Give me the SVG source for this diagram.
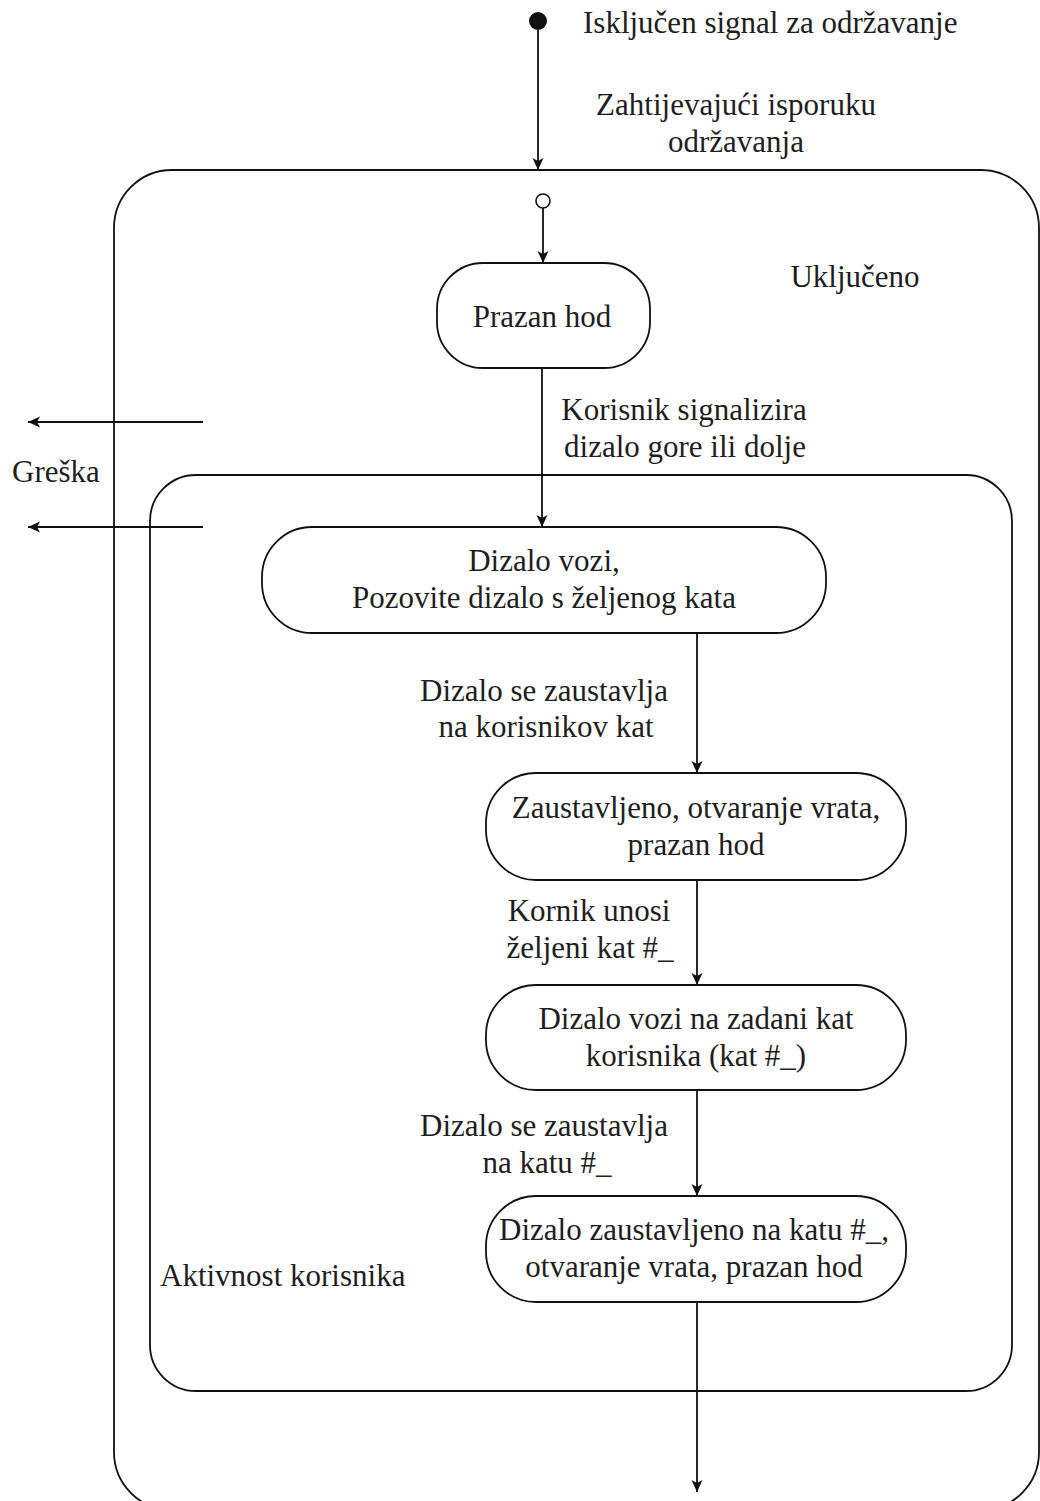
<svg xmlns="http://www.w3.org/2000/svg" width="1040" height="1501" viewBox="0 0 1040 1501">
<style>
text{font-family:"Liberation Serif","Times New Roman",serif;font-size:31px;fill:#1e1e1e}
.m{text-anchor:middle}
.box{fill:none;stroke:#111;stroke-width:1.8}
.ln{fill:none;stroke:#111;stroke-width:1.8}
</style>
<defs>
<marker id="ah" markerWidth="14" markerHeight="12" refX="12" refY="5.5" orient="auto" markerUnits="userSpaceOnUse">
<path d="M0,0 L12,5.5 L0,11 L3,5.5 Z" fill="#111"/>
</marker>
</defs>
<rect width="1040" height="1501" fill="#fff"/>
<g id="state-ukljuceno">
<rect class="box" x="114" y="170" width="925" height="1340" rx="58" ry="58"/>
<text x="855" y="287" class="m">Uključeno</text>
</g>
<g id="state-aktivnost">
<rect class="box" x="150" y="475" width="862" height="916" rx="46" ry="46"/>
<text x="160" y="1286">Aktivnost korisnika</text>
</g>
<g id="initial">
<circle cx="538" cy="21" r="9" fill="#111"/>
</g>
<g id="initial-inner">
<circle cx="543" cy="201" r="7" fill="#fff" stroke="#111" stroke-width="1.6"/>
</g>
<g id="prazan-hod">
<rect class="box" x="437" y="263" width="213" height="105" rx="46" ry="46"/>
<text x="542" y="327" class="m">Prazan hod</text>
</g>
<g id="dizalo-vozi">
<rect class="box" x="262" y="527" width="564" height="106" rx="50" ry="50"/>
<text x="544" y="571" class="m">Dizalo vozi,</text>
<text x="544" y="608" class="m">Pozovite dizalo s željenog kata</text>
</g>
<g id="zaustavljeno">
<rect class="box" x="486" y="773" width="420" height="107" rx="50" ry="50"/>
<text x="696" y="818" class="m">Zaustavljeno, otvaranje vrata,</text>
<text x="696" y="855" class="m">prazan hod</text>
</g>
<g id="vozi-zadani">
<rect class="box" x="486" y="985" width="420" height="105" rx="50" ry="50"/>
<text x="696" y="1029" class="m">Dizalo vozi na zadani kat</text>
<text x="696" y="1066" class="m">korisnika (kat #_)</text>
</g>
<g id="zaustavljeno-katu">
<rect class="box" x="486" y="1196" width="420" height="106" rx="50" ry="50"/>
<text x="694" y="1240" class="m">Dizalo zaustavljeno na katu #_,</text>
<text x="694" y="1277" class="m">otvaranje vrata, prazan hod</text>
</g>
<g id="connectors">
<line class="ln" x1="538" y1="30" x2="538" y2="170" marker-end="url(#ah)"/>
<line class="ln" x1="543" y1="208" x2="543" y2="263" marker-end="url(#ah)"/>
<line class="ln" x1="542" y1="368" x2="542" y2="527" marker-end="url(#ah)"/>
<line class="ln" x1="697" y1="633" x2="697" y2="773" marker-end="url(#ah)"/>
<line class="ln" x1="697" y1="880" x2="697" y2="985" marker-end="url(#ah)"/>
<line class="ln" x1="697" y1="1090" x2="697" y2="1196" marker-end="url(#ah)"/>
<line class="ln" x1="697" y1="1302" x2="697" y2="1492" marker-end="url(#ah)"/>
<line class="ln" x1="203" y1="422" x2="28" y2="422" marker-end="url(#ah)"/>
<line class="ln" x1="203" y1="527" x2="28" y2="527" marker-end="url(#ah)"/>
<text x="583" y="33">Isključen signal za održavanje</text>
<text x="736" y="115" class="m">Zahtijevajući isporuku</text>
<text x="736" y="152" class="m">održavanja</text>
<text x="684" y="420" class="m">Korisnik signalizira</text>
<text x="685" y="457" class="m">dizalo gore ili dolje</text>
<text x="12" y="482">Greška</text>
<text x="544" y="701" class="m">Dizalo se zaustavlja</text>
<text x="546" y="737" class="m">na korisnikov kat</text>
<text x="589" y="921" class="m">Kornik unosi</text>
<text x="590" y="958" class="m">željeni kat #_</text>
<text x="544" y="1136" class="m">Dizalo se zaustavlja</text>
<text x="547" y="1173" class="m">na katu #_</text>
</g>
</svg>
